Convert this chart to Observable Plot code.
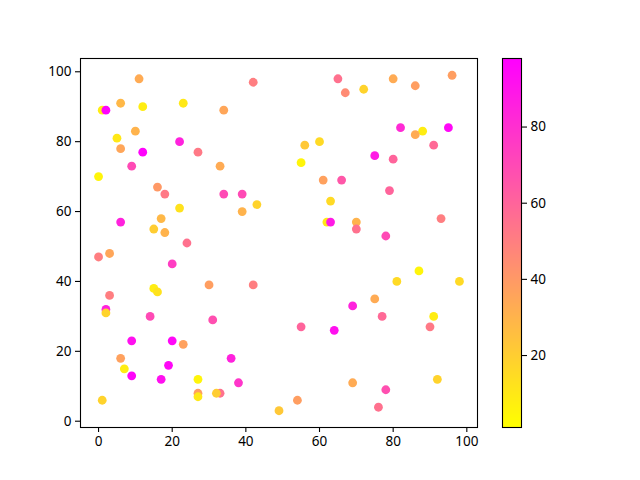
<!DOCTYPE html>
<html>
<head>
<meta charset="utf-8">
<script src="https://cdn.jsdelivr.net/npm/d3@7"></script>
<script src="https://cdn.jsdelivr.net/npm/@observablehq/plot@0.6"></script>
<style>
  html, body { margin: 0; padding: 0; background: #fff; }
  #wrap { position: relative; width: 640px; height: 480px; }
  #wrap svg { position: absolute; left: 0; top: 0; }
</style>
</head>
<body>
<div id="wrap"></div>
<script>
const xs = [11,42,6,12,23,1,2,34,10,5,6,22,12,27,33,0,9,16,18,34,39,43,22,39,6,17,15,18,24,
  65,67,72,80,86,96,82,88,86,95,91,56,60,55,75,80,61,66,79,63,62,63,70,70,78,93,
  0,3,20,30,42,15,16,3,2,2,14,31,9,20,23,6,36,7,19,9,17,27,38,27,27,33,32,1,49,
  54,55,64,69,75,77,81,87,98,91,90,69,78,92,76];
const ys = [98,97,91,90,91,89,89,89,83,81,78,80,77,77,73,70,73,67,65,65,65,62,61,60,57,58,55,54,51,
  98,94,95,98,96,99,84,83,82,84,79,79,80,74,76,75,69,69,66,63,57,57,57,55,53,58,
  47,48,45,39,39,38,37,36,32,31,30,29,23,23,22,18,18,15,16,13,12,12,11,8,7,8,8,6,3,
  6,27,26,33,35,30,40,43,40,30,27,11,9,12,4];
const cs = [33,50,28,8,10,8,97,35,30,10,35,85,97,52,33,5,70,40,52,70,70,18,12,30,85,28,20,30,55,
  55,45,18,33,38,38,82,8,33,95,58,22,15,5,88,60,37,65,60,15,10,88,30,55,70,50,
  50,35,75,38,50,8,12,50,85,18,70,68,92,95,37,37,85,8,95,96,92,5,78,38,10,55,20,18,22,
  38,60,92,85,33,58,15,5,15,8,52,33,68,18,55];
const xTicks = [0,20,40,60,80,100];
const yTicks = [0,20,40,60,80,100];
const cTicks = [20,40,60,80];
const cDomain = [1.1, 98];

const points = xs.map((x, i) => ({x, y: ys[i], c: cs[i]}));
const colorScale = {type: "linear", domain: cDomain, range: ["#ffff00", "#ff00ff"], interpolate: "rgb"};
const font = {fontFamily: "'Noto Sans', sans-serif", fontSize: "13.5px", color: "#000", background: "transparent"};

const main = Plot.plot({
  width: 640, height: 480,
  marginLeft: 80, marginRight: 163, marginTop: 58, marginBottom: 53,
  style: font,
  x: {domain: [-4.9, 102.9]},
  y: {domain: [-1.8, 103.8]},
  color: colorScale,
  marks: [
    Plot.dot(points, {x: "x", y: "y", fill: "c", r: 4.4, stroke: null}),
    Plot.frame({stroke: "#000", strokeWidth: 1.1}),
    Plot.axisX({ticks: xTicks, tickSize: 5, tickPadding: 4, label: null, strokeWidth: 1.1}),
    Plot.axisY({ticks: yTicks, tickSize: 5, tickPadding: 4, label: null, strokeWidth: 1.1})
  ]
});

const nBands = 256;
const bands = d3.range(nBands).map(i => {
  const lo = cDomain[0] + (cDomain[1] - cDomain[0]) * i / nBands;
  const hi = cDomain[0] + (cDomain[1] - cDomain[0]) * (i + 1) / nBands;
  return {lo, hi, mid: (lo + hi) / 2};
});

const bar = Plot.plot({
  width: 640, height: 480,
  marginLeft: 502, marginRight: 119, marginTop: 58, marginBottom: 53,
  style: font,
  y: {domain: cDomain},
  color: colorScale,
  marks: [
    Plot.rect(bands, {y1: "lo", y2: "hi", fill: "mid", inset: 0, shapeRendering: "crispEdges"}),
    Plot.frame({stroke: "#000", strokeWidth: 1.1}),
    Plot.axisY({anchor: "right", ticks: cTicks, tickSize: 5, tickPadding: 4, label: null, strokeWidth: 1.1})
  ]
});

const wrap = document.getElementById("wrap");
wrap.appendChild(main);
wrap.appendChild(bar);
</script>
</body>
</html>
